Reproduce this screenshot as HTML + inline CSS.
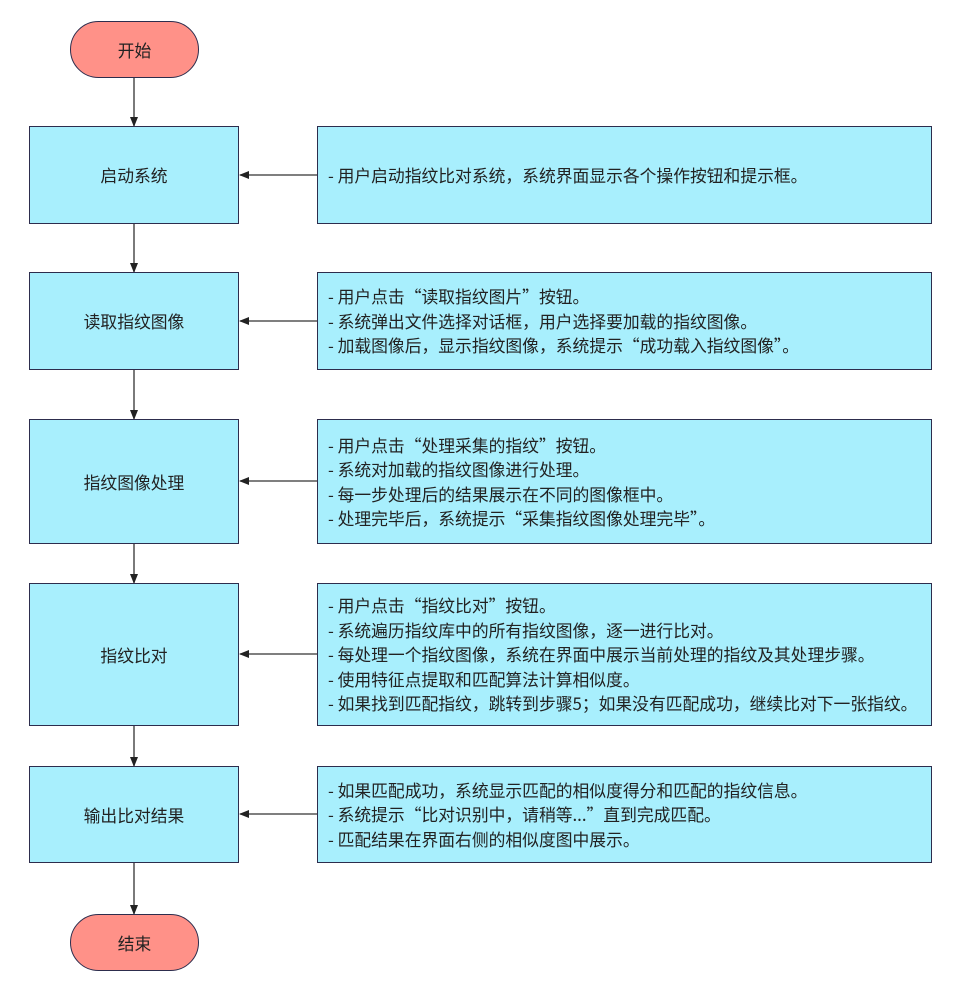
<!DOCTYPE html>
<html><head><meta charset="utf-8"><style>
body{margin:0;width:962px;height:999px;background:#fff;position:relative;font-family:"Noto Sans CJK SC","Liberation Sans",sans-serif;color:#222;}
.b{position:absolute;background:#a8effd;border:1.5px solid #2d2d4d;box-sizing:border-box;}
.l{left:29px;width:210px;display:flex;align-items:center;justify-content:center;font-size:16.8px;}
.r{left:317px;width:615px;display:flex;flex-direction:column;justify-content:center;padding-left:10px;font-size:16.8px;line-height:24.5px;white-space:nowrap;}
.p{position:absolute;left:70px;width:129px;height:57px;background:#ff9188;border:1.5px solid #2d2d4d;border-radius:29px;box-sizing:border-box;display:flex;align-items:center;justify-content:center;font-size:16.8px;}
svg{position:absolute;left:0;top:0;}
</style></head><body>
<svg width="962" height="999"><defs><marker id="a" markerWidth="10" markerHeight="10" refX="9" refY="5" orient="auto" markerUnits="userSpaceOnUse"><path d="M0,1 L10,5 L0,9 z" fill="#222"/></marker></defs>
<g stroke="#333" stroke-width="1.3" marker-end="url(#a)">
<line x1="134" y1="77" x2="134" y2="126"/>
<line x1="134" y1="223" x2="134" y2="272"/>
<line x1="134" y1="369" x2="134" y2="419"/>
<line x1="134" y1="543" x2="134" y2="583"/>
<line x1="134" y1="725" x2="134" y2="766"/>
<line x1="134" y1="862" x2="134" y2="914"/>
<line x1="317" y1="175" x2="240" y2="175"/>
<line x1="317" y1="321" x2="240" y2="321"/>
<line x1="317" y1="481" x2="240" y2="481"/>
<line x1="317" y1="654" x2="240" y2="654"/>
<line x1="317" y1="814" x2="240" y2="814"/>
</g></svg>
<div class="p" style="top:21px">开始</div>
<div class="p" style="top:914px">结束</div>
<div class="b l" style="top:126px;height:98px">启动系统</div>
<div class="b l" style="top:272px;height:98px">读取指纹图像</div>
<div class="b l" style="top:419px;height:125px">指纹图像处理</div>
<div class="b l" style="top:583px;height:143px">指纹比对</div>
<div class="b l" style="top:766px;height:97px">输出比对结果</div>
<div class="b r" style="top:126px;height:98px"><div>- 用户启动指纹比对系统，系统界面显示各个操作按钮和提示框。</div></div>
<div class="b r" style="top:272px;height:98px"><div>- 用户点击“读取指纹图片”按钮。</div><div>- 系统弹出文件选择对话框，用户选择要加载的指纹图像。</div><div>- 加载图像后，显示指纹图像，系统提示“成功载入指纹图像”。</div></div>
<div class="b r" style="top:419px;height:125px"><div>- 用户点击“处理采集的指纹”按钮。</div><div>- 系统对加载的指纹图像进行处理。</div><div>- 每一步处理后的结果展示在不同的图像框中。</div><div>- 处理完毕后，系统提示“采集指纹图像处理完毕”。</div></div>
<div class="b r" style="top:583px;height:143px"><div>- 用户点击“指纹比对”按钮。</div><div>- 系统遍历指纹库中的所有指纹图像，逐一进行比对。</div><div>- 每处理一个指纹图像，系统在界面中展示当前处理的指纹及其处理步骤。</div><div>- 使用特征点提取和匹配算法计算相似度。</div><div>- 如果找到匹配指纹，跳转到步骤5；如果没有匹配成功，继续比对下一张指纹。</div></div>
<div class="b r" style="top:766px;height:97px"><div>- 如果匹配成功，系统显示匹配的相似度得分和匹配的指纹信息。</div><div>- 系统提示“比对识别中，请稍等...”直到完成匹配。</div><div>- 匹配结果在界面右侧的相似度图中展示。</div></div>
</body></html>
